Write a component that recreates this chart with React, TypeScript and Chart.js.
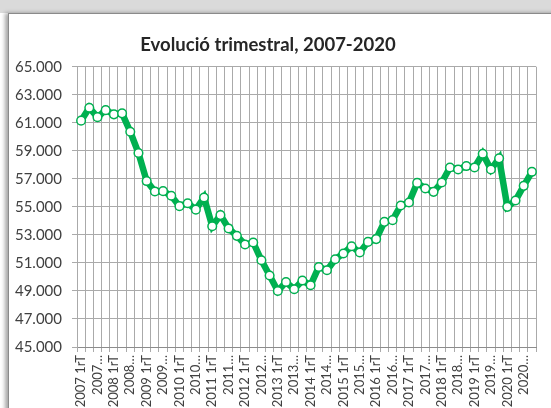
import React, { useEffect, useRef } from "react";
import { Chart, registerables } from "chart.js";

Chart.register(...registerables);

const years = ["2007","2008","2009","2010","2011","2012","2013","2014","2015","2016","2017","2018","2019","2020"];
const quarters = ["1rT", "2nT", "3rT", "4tT"];
const categories: string[] = [];
years.forEach((y) => quarters.forEach((q) => categories.push(y + " " + q)));

const values = [
  61150, 62070, 61400, 61900,
  61600, 61670, 60360, 58840,
  56840, 56100, 56120, 55790,
  55050, 55260, 54800, 55670,
  53620, 54410, 53460, 52930,
  52310, 52460, 51190, 50100,
  49000, 49640, 49120, 49740,
  49410, 50710, 50480, 51260,
  51670, 52190, 51740, 52500,
  52700, 53930, 54050, 55100,
  55310, 56710, 56310, 56070,
  56740, 57810, 57670, 57910,
  57810, 58790, 57670, 58460,
  55000, 55450, 56500, 57500,
];

const yMin = 45000;
const yMax = 65000;
const yStep = 2000;
const title = "Evolució trimestral, 2007-2020";

function tickLabel(idx: number): string {
  if (idx % 2 !== 0) return "";
  const c = categories[idx];
  if (idx % 4 === 0) return c;
  return c.split(" ")[0] + "…";
}

export default function App() {
  const ref = useRef<HTMLCanvasElement | null>(null);
  useEffect(() => {
    document.body.style.margin = "0";
    if (!ref.current) return;
    const chart = new Chart(ref.current, {
      type: "line",
      data: {
        labels: categories,
        datasets: [
          {
            data: values,
            borderColor: "#00B050",
            borderWidth: 6.5,
            tension: 0,
            pointRadius: 4.3,
            pointBackgroundColor: "#ffffff",
            pointBorderColor: "#00B050",
            pointBorderWidth: 1.5,
          },
        ],
      },
      options: {
        animation: false,
        responsive: false,
        devicePixelRatio: 1,
        layout: { padding: { left: 0, right: 15, top: 0, bottom: 0 } },
        plugins: {
          legend: { display: false },
          tooltip: { enabled: false },
          title: {
            display: true,
            text: title,
            color: "#262626",
            font: { family: "Lato", size: 18.5, weight: "bold", lineHeight: 1.2 },
            padding: { top: 34, bottom: 10.5 },
          },
        },
        scales: {
          x: {
            type: "category",
            offset: true,
            grid: {
              offset: true,
              color: "#AAAAAA",
              lineWidth: 1,
              tickLength: 5,
              drawTicks: true,
            },
            border: { color: "#8C8C8C", width: 1 },
            ticks: {
              autoSkip: false,
              maxRotation: 90,
              minRotation: 90,
              padding: 3,
              color: "#404040",
              font: { family: "Lato", size: 13 },
              callback: (_v: any, idx: number) => tickLabel(idx),
            },
            afterFit: (scale: any) => {
              scale.height = 61;
            },
          },
          y: {
            min: yMin,
            max: yMax,
            grid: { color: "#AAAAAA", lineWidth: 1, tickLength: 5 },
            border: { color: "#AAAAAA", width: 1 },
            ticks: {
              stepSize: yStep,
              padding: 10,
              color: "#404040",
              font: { family: "Lato", size: 15 },
              callback: (v: any) => Number(v).toLocaleString("de-DE", { minimumFractionDigits: 0 }).replace(/,/g, "."),
            },
            afterFit: (scale: any) => {
              scale.width = 77;
            },
          },
        },
      },
    } as any);
    return () => chart.destroy();
  }, []);

  return (
    <div style={{ position: "relative", width: 551, height: 408, overflow: "hidden", background: "#fff" }}>
      <div style={{ position: "absolute", left: 0, top: 0, width: 551, height: 13, background: "#DADADA" }} />
      <div
        style={{
          position: "absolute",
          left: 8,
          top: 13,
          width: 600,
          height: 500,
          borderLeft: "1.5px solid #8A8A8A",
          borderTop: "1.5px solid #8A8A8A",
          boxShadow: "-3px 0 4px rgba(0,0,0,0.35)",
          background: "#fff",
        }}
      />
      <canvas
        ref={ref}
        width={551}
        height={408}
        style={{ position: "absolute", left: 0, top: 0, width: 551, height: 408 }}
      />
    </div>
  );
}
